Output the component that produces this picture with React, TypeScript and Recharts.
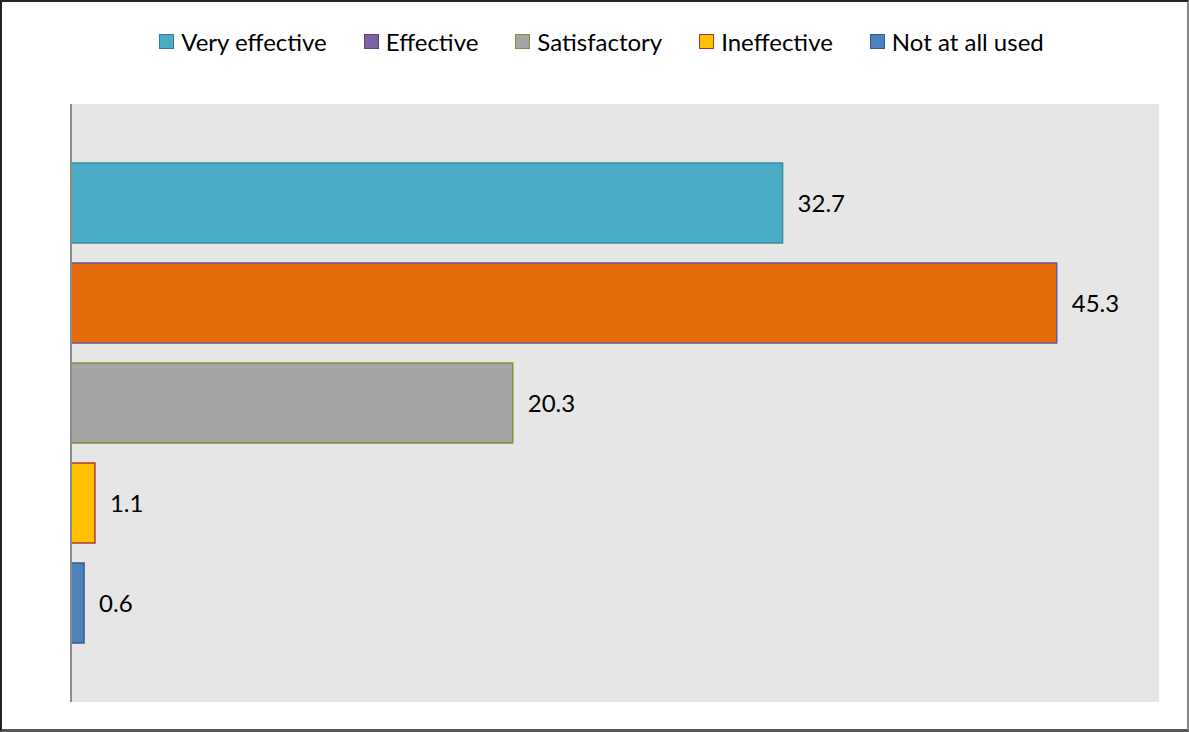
import React from "react"
import { BarChart, Bar, XAxis, YAxis, CartesianGrid, LabelList, ReferenceLine } from "recharts"

const categories = ["Effectiveness"]
const seriesNames = ["Very effective", "Effective", "Satisfactory", "Ineffective", "Not at all used"]
const seriesValues = [32.7, 45.3, 20.3, 1.1, 0.6]

const barFills = ["#4BACC6", "#E46C0A", "#A5A5A5", "#FFC000", "#4F81BD"]
const barStrokes = ["#3A8DA3", "#6A55A0", "#77933C", "#B03A2E", "#385D8A"]
const legendFills = ["#4BACC6", "#8064A2", "#A5A5A5", "#FFC000", "#4F81BD"]
const legendStrokes = ["#357D91", "#5C4776", "#77933C", "#A0382F", "#385D8A"]

const data = categories.map((name) => {
  const row: Record<string, string | number> = { name }
  seriesNames.forEach((s, i) => {
    row[s] = seriesValues[i]
  })
  return row
})

const font = "Lato, 'Open Sans', sans-serif"

export default function App() {
  return (
    <div style={{ position: "absolute", left: 0, top: 0, width: 1189, height: 732, background: "#fff", fontFamily: font }}>
      <BarChart
        width={1189}
        height={732}
        data={data}
        layout="vertical"
        margin={{ top: 104, right: 30, bottom: 30, left: 71 }}
        barSize={80}
        barGap={20}
        style={{ position: "absolute", left: 0, top: 0 }}
      >
        <CartesianGrid fill="#E6E6E6" horizontal={false} vertical={false} />
        <XAxis type="number" domain={[0, 50]} hide />
        <YAxis type="category" dataKey="name" width={0} tick={false} tickLine={false} axisLine={false} />
        {seriesNames.map((s, i) => (
          <Bar key={s} dataKey={s} fill={barFills[i]} stroke={barStrokes[i]} strokeWidth={1.5} isAnimationActive={false}>
            <LabelList dataKey={s} position="right" offset={15} fill="#000" fontSize={24} fontFamily={font} />
          </Bar>
        ))}
        <ReferenceLine x={0} stroke="#8C8C8C" strokeWidth={2} />
      </BarChart>

      <div
        style={{
          position: "absolute",
          top: 27,
          left: 0,
          width: 1189,
          display: "flex",
          justifyContent: "center",
          gap: 37,
          fontSize: 24,
          color: "#000",
          paddingLeft: 14,
          boxSizing: "border-box",
        }}
      >
        {seriesNames.map((s, i) => (
          <div key={s} style={{ display: "flex", alignItems: "center" }}>
            <span
              style={{
                display: "inline-block",
                width: 13,
                height: 13,
                background: legendFills[i],
                border: `1.5px solid ${legendStrokes[i]}`,
                marginRight: 7,
              }}
            />
            <span>{s}</span>
          </div>
        ))}
      </div>

      <div
        style={{
          position: "absolute",
          left: 0,
          top: 0,
          width: 1189,
          height: 732,
          boxSizing: "border-box",
          borderLeft: "2px solid #222",
          borderTop: "2px solid #222",
          borderRight: "2px solid #888",
          borderBottom: "3px solid #555",
          pointerEvents: "none",
        }}
      />
    </div>
  )
}
